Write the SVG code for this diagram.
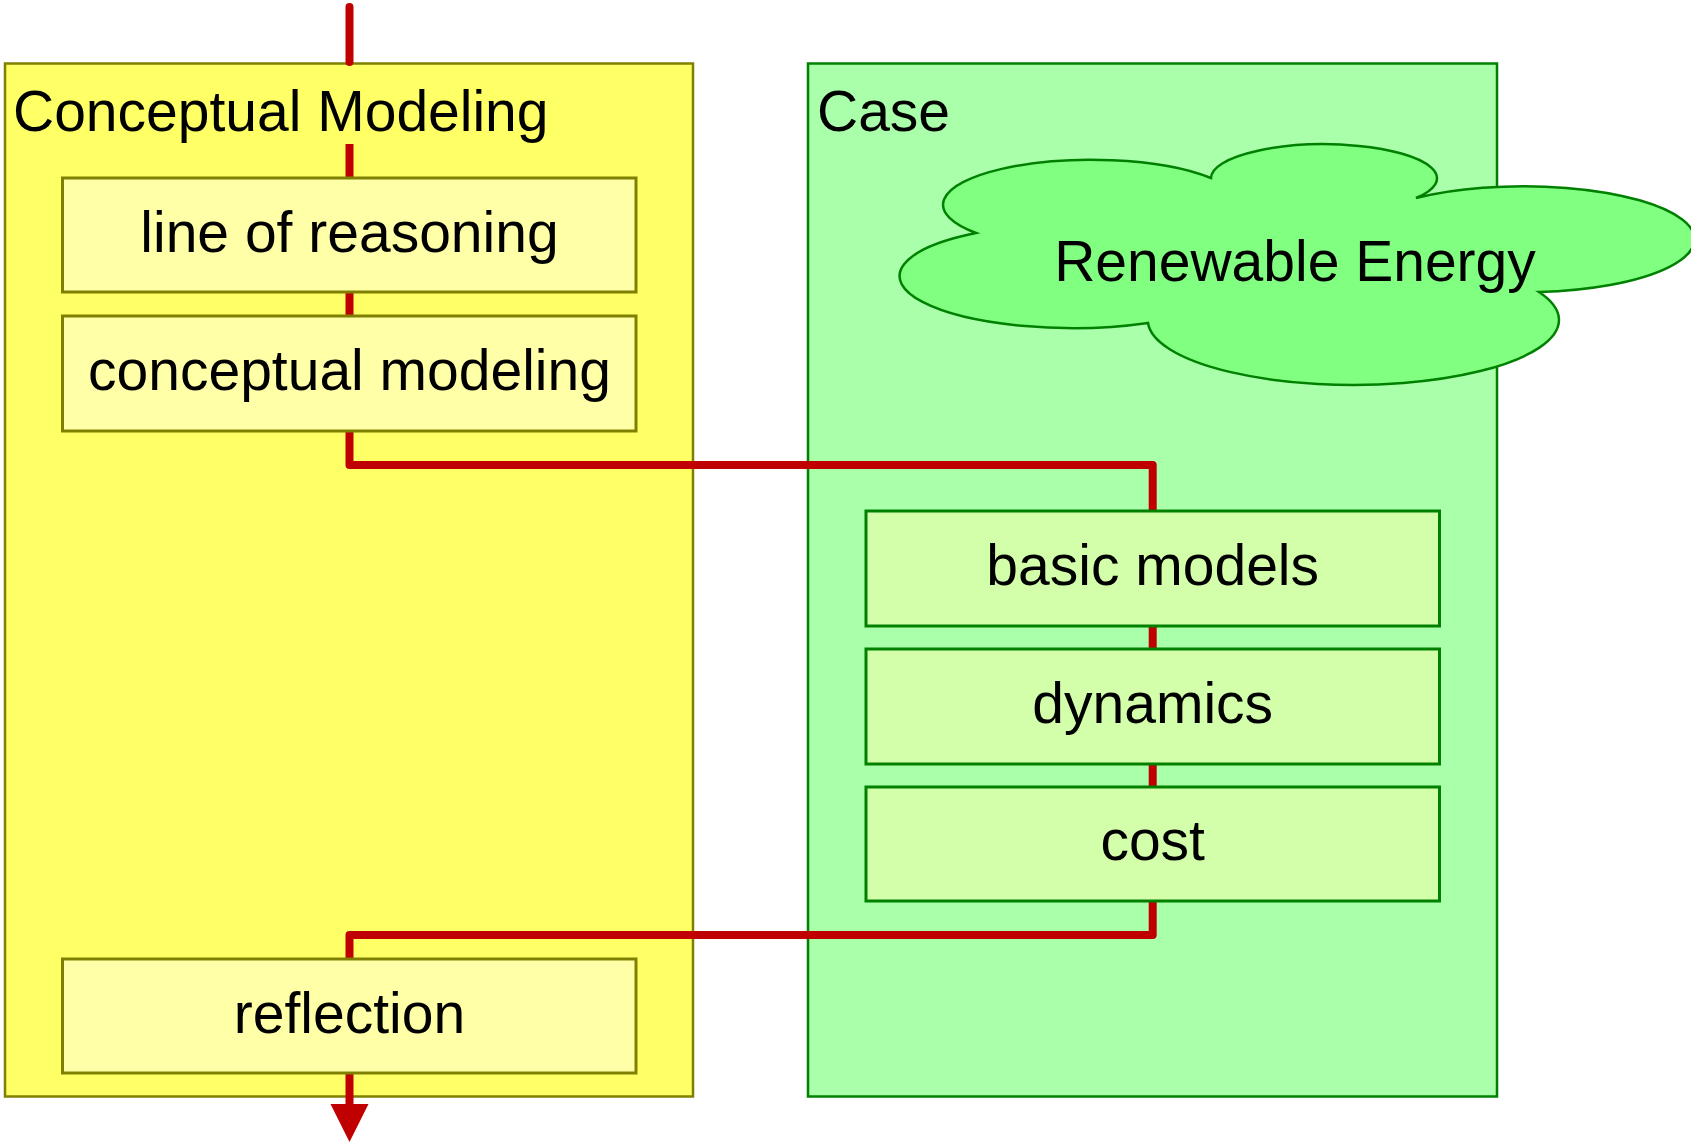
<svg xmlns="http://www.w3.org/2000/svg" width="1691" height="1144" viewBox="0 0 1691 1144">
<defs>
<style>
text{font-family:"Liberation Sans",Arial,sans-serif;font-size:57px;fill:#000}
.mid{text-anchor:middle}
.ybig{fill:#FFFF66;stroke:#808000;stroke-width:2.5}
.gbig{fill:#AAFFAA;stroke:#008000;stroke-width:2.5}
.ybox{fill:#FFFFA8;stroke:#808000;stroke-width:3}
.gbox{fill:#D4FFAA;stroke:#008000;stroke-width:3}
.cloud{fill:#80FF80;stroke:#008000;stroke-width:2.5}
.conn{fill:none;stroke:#C00000;stroke-width:8;stroke-linejoin:round;stroke-linecap:round}
.conn2{fill:none;stroke:#C00000;stroke-width:8;stroke-linejoin:round}
</style>
<marker id="arr" markerUnits="userSpaceOnUse" markerWidth="40" markerHeight="40" viewBox="0 0 40 40" refX="0" refY="20" orient="auto">
<path d="M0,1 L38,20 L0,39 Z" fill="#C00000"/>
</marker>
</defs>
<g id="conceptual-modeling-group">
<rect class="ybig" x="5" y="63.5" width="688" height="1033"/>
<text x="13" y="131">Conceptual Modeling</text>
</g>
<g id="case-group">
<rect class="gbig" x="808" y="63.5" width="689" height="1033"/>
<text x="817" y="131">Case</text>
</g>
<g id="renewable-energy">
<path class="cloud" d="M976,233 A148.5,45 0 1 1 1211,178 A113,34 0 1 1 1416,198 A171,53 0 1 1 1539,292 A205.6,65 0 1 1 1148,323 A173.5,52 0 0 1 976,233 Z"/>
<text class="mid" x="1295" y="281">Renewable Energy</text>
</g>
<g id="connectors">
<line class="conn" x1="349.5" y1="7" x2="349.5" y2="62"/>
<line class="conn2" x1="349.5" y1="144" x2="349.5" y2="178"/>
<line class="conn2" x1="349.5" y1="292" x2="349.5" y2="316"/>
<path class="conn2" d="M349.5,431 V465 H1152.7 V511"/>
<line class="conn2" x1="1152.7" y1="626" x2="1152.7" y2="649"/>
<line class="conn2" x1="1152.7" y1="764" x2="1152.7" y2="787"/>
<path class="conn2" d="M1152.7,901 V935 H349.5 V959"/>
<line class="conn2" x1="349.5" y1="1073" x2="349.5" y2="1104" marker-end="url(#arr)"/>
</g>
<g id="line-of-reasoning">
<rect class="ybox" x="62.5" y="178" width="573.5" height="114"/>
<text class="mid" x="349.5" y="252">line of reasoning</text>
</g>
<g id="conceptual-modeling">
<rect class="ybox" x="62.5" y="316" width="573.5" height="115"/>
<text class="mid" x="349.5" y="390">conceptual modeling</text>
</g>
<g id="reflection">
<rect class="ybox" x="62.5" y="959" width="573.5" height="114"/>
<text class="mid" x="349.5" y="1033">reflection</text>
</g>
<g id="basic-models">
<rect class="gbox" x="866" y="511" width="573.5" height="115"/>
<text class="mid" x="1152.7" y="585">basic models</text>
</g>
<g id="dynamics">
<rect class="gbox" x="866" y="649" width="573.5" height="115"/>
<text class="mid" x="1152.7" y="723">dynamics</text>
</g>
<g id="cost">
<rect class="gbox" x="866" y="787" width="573.5" height="114"/>
<text class="mid" x="1152.7" y="860">cost</text>
</g>
</svg>
